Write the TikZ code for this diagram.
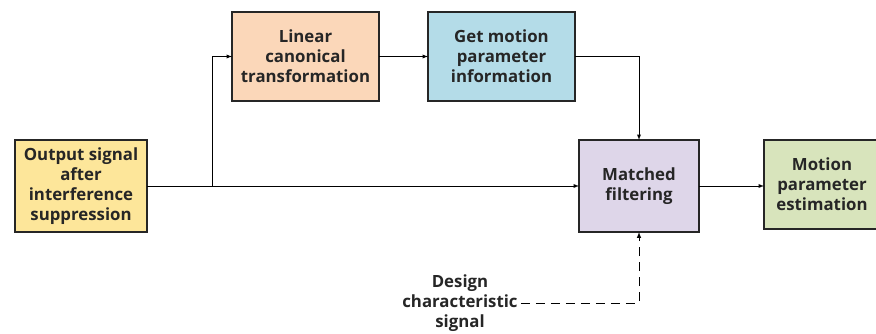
\documentclass[tikz,border=0pt]{standalone}
\usepackage{fontspec}
\setmainfont{Open Sans}
\usetikzlibrary{arrows}

\definecolor{outfill}{HTML}{FDE69A}
\definecolor{lctfill}{HTML}{FBD7B9}
\definecolor{getfill}{HTML}{B4DCE8}
\definecolor{mffill}{HTML}{DED6E9}
\definecolor{estfill}{HTML}{D8E4BC}
\definecolor{boxline}{HTML}{262626}

\begin{document}
\begin{tikzpicture}[x=1pt,y=1pt,every text node part/.style={align=center}]

\tikzstyle{bordered} = [rectangle,draw=boxline,line width=1.3pt,outer sep=0,inner sep=0,font=\bfseries\fontsize{16.8}{20}\selectfont,text=boxline]
\tikzstyle{arrow} = [draw,line width=0.9pt,-latex]
\tikzstyle{dasharrow} = [draw,line width=1pt,dash pattern=on 9pt off 6pt,-latex]

\useasboundingbox (0,0) rectangle (876,333);

\node [bordered, fill=outfill, minimum width=132, minimum height=92] (output) at (81,147) {Output signal\\after\\interference\\suppression};
\node [bordered, fill=lctfill, minimum width=147, minimum height=89] (lct) at (305.5,276.5) {Linear\\canonical\\transformation};
\node [bordered, fill=getfill, minimum width=147, minimum height=89] (getinfo) at (501.5,276.5) {Get motion\\parameter\\information};
\node [bordered, fill=mffill, minimum width=120, minimum height=92] (matched) at (639,147) {Matched\\filtering};
\node [bordered, fill=estfill, minimum width=116, minimum height=89] (estimate) at (822,148.5) {Motion\\parameter\\estimation};
\node [font=\bfseries\fontsize{16.8}{20}\selectfont, text=boxline, inner sep=3pt] (design) at (460,30) {Design\\characteristic\\signal};

\coordinate (branch) at (212,147);

\path[arrow] (output) -- (matched);
\path[arrow] (branch) |- (lct);
\path[arrow] (lct) -- (getinfo);
\path[arrow] (getinfo) -| (matched);
\path[arrow] (matched) -- (matched -| estimate.west);
\path[dasharrow] (design) -| (matched);
\end{tikzpicture}
\end{document}
